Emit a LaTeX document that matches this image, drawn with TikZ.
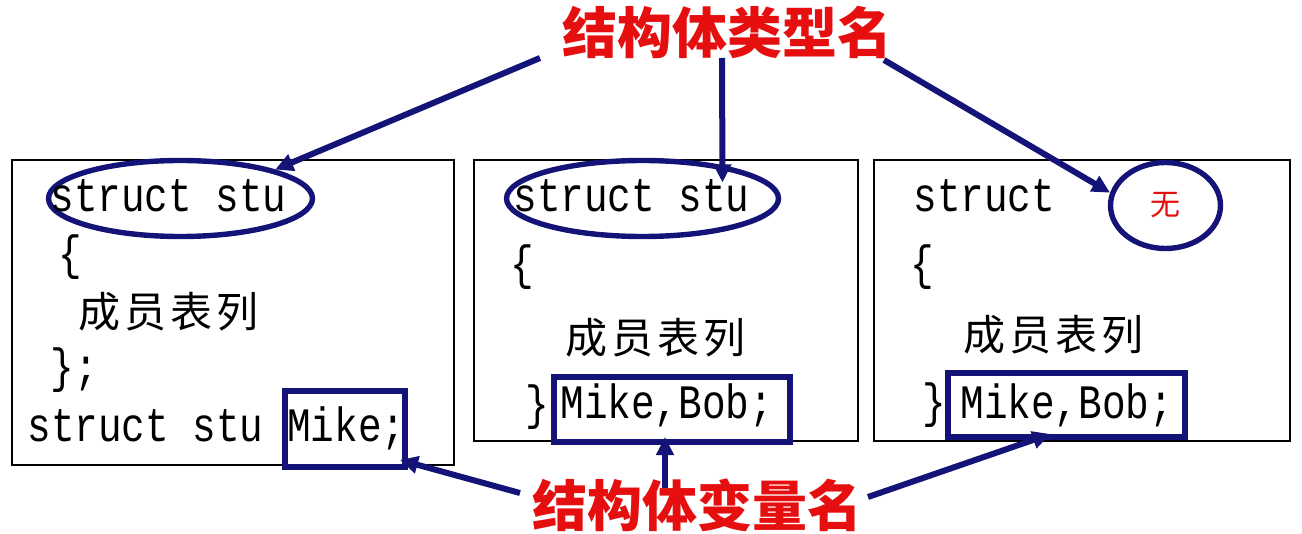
\documentclass[tikz,border=0pt]{standalone}
\usepackage{fontspec}
\usetikzlibrary{shapes.geometric,arrows.meta}
\newfontfamily\codefont[FakeStretch=0.82]{Liberation Mono}
\newfontfamily\cjk{Noto Sans CJK SC}
\definecolor{navy}{RGB}{20,20,120}
\definecolor{titlered}{RGB}{230,15,15}
\newcommand{\members}{成\hspace{2pt}员\hspace{2pt}表\hspace{2pt}列}

\begin{document}
\begin{tikzpicture}[x=0.5pt,y=-0.5pt,
    code/.style={inner sep=0pt,font=\codefont\fontsize{24pt}{28pt}\selectfont},
    member/.style={inner sep=0pt,font=\cjk\fontsize{21pt}{24pt}\selectfont},
    title/.style={inner sep=0pt,text=titlered,font=\cjk\bfseries\fontsize{27.5pt}{30pt}\selectfont},
    codebox/.style={draw=black,line width=1.1pt},
    typeell/.style={draw=navy,line width=2.7pt,ellipse,inner sep=0pt},
    varbox/.style={draw=navy,line width=3pt,rectangle,inner sep=0pt},
    pointer/.style={draw=navy,line width=3pt,-{Triangle[length=9pt,width=8.5pt]}}]
            \useasboundingbox (0,0) rectangle (1302,534);
            \draw[codebox] (12,160) rectangle (454,465);
            \draw[codebox] (474,160) rectangle (858,441);
            \draw[codebox] (874,160) rectangle (1290,441);
            \node[typeell,minimum width=132pt,minimum height=38pt] (ell1) at (180.5,198.5) {};
            \node[typeell,minimum width=136pt,minimum height=38pt] (ell2) at (642.5,198.5) {};
            \node[typeell,minimum width=55pt,minimum height=43pt] (nul) at (1165.5,205.5) {};
            \node[varbox,minimum width=60pt,minimum height=38pt] (mike1) at (345,429) {};
            \node[varbox,minimum width=118pt,minimum height=32.5pt] (mikebob2) at (672,409.5) {};
            \node[varbox,minimum width=118.5pt,minimum height=32pt] (mikebob3) at (1066.5,405) {};
            \node[code] (s1) at (50,212)[anchor=base west]{struct stu};
            \node[code] (open1) at (58,257)[anchor=west]{\{};
            \node[member] (m1) at (78,312)[anchor=west]{\members};
            \node[code] (close1) at (50,370)[anchor=west]{\};};
            \node[code] (decl1) at (27,442)[anchor=base west]{struct stu Mike;};
            \node[code] (s2) at (513,212)[anchor=base west]{struct stu};
            \node[code] (open2) at (510,267)[anchor=west]{\{};
            \node[member] (m2) at (565,338)[anchor=west]{\members};
            \node[code] (close2) at (525,407)[anchor=west]{\}};
            \node[code] (decl2) at (560,418)[anchor=base west]{Mike,Bob;};
            \node[code] (s3) at (913,212)[anchor=base west]{struct};
            \node[code] (open3) at (910,267)[anchor=west]{\{};
            \node[member] (m3) at (963,335)[anchor=west]{\members};
            \node[code] (close3) at (922,405)[anchor=west]{\}};
            \node[code] (decl3) at (960,418)[anchor=base west]{Mike,Bob;};
            \node[inner sep=0pt,text=titlered,font=\cjk\fontsize{15pt}{18pt}\selectfont] (none) at (nul.center){无};
            \node[title] (typeName) at (727.5,32){结构体类型名};
            \node[title] (varName) at (697.5,505){结构体变量名};
            \coordinate (t1) at (540,58);
            \coordinate (t2) at (722,58);
            \coordinate (t3) at (884,60);
            \coordinate (v1) at (520,493);
            \coordinate (v2) at (665,488);
            \coordinate (v3) at (868,497);
            \draw[pointer] (t1) -- (ell1.17);
            \draw[pointer] (t2) -- ([shift={(80,-16)}]ell2.center);
            \draw[pointer] (t3) -- (nul.167);
            \draw[pointer] (v1) -- ([shift={(-8,-10)}]mike1.south east);
            \draw[pointer] (v2) -- ([shift={(-7,-8)}]mikebob2.south);
            \draw[pointer] (v3) -- ([shift={(-16,-6)}]mikebob3.south);
        \end{tikzpicture}
\end{document}
